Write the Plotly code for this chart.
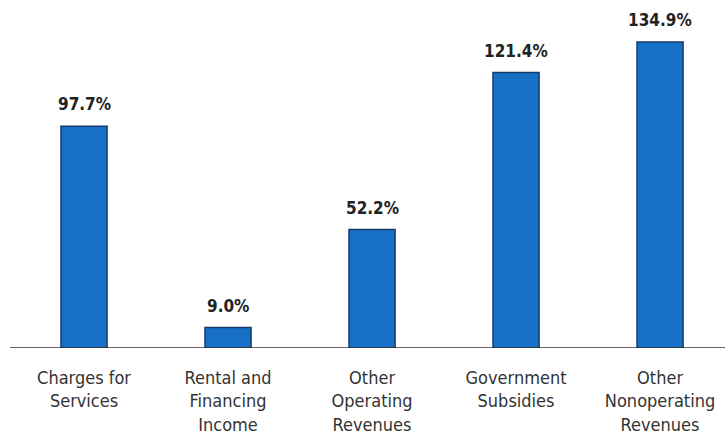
import plotly.graph_objects as go

categories = ["Charges for<br>Services", "Rental and<br>Financing<br>Income", "Other<br>Operating<br>Revenues",
              "Government<br>Subsidies", "Other<br>Nonoperating<br>Revenues"]
values = [97.7, 9.0, 52.2, 121.4, 134.9]
value_labels = ["97.7%", "9.0%", "52.2%", "121.4%", "134.9%"]

xs = list(range(len(categories)))

fig = go.Figure()
fig.add_trace(go.Bar(
    x=xs, y=values, width=0.32,
    marker=dict(color="#1670C6", line=dict(color="#163B6B", width=1.5)),
    hoverinfo="skip",
))

for x, v, t in zip(xs, values, value_labels):
    fig.add_annotation(x=x, y=v, text=t, showarrow=False, yanchor="bottom", yshift=10,
                       font=dict(family="DejaVu Sans Condensed, Arial", size=17,
                                 color="#222222", weight="bold"))

fig.update_layout(
    width=725, height=441,
    margin=dict(l=10, r=0, t=0, b=93),
    paper_bgcolor="white", plot_bgcolor="white",
    showlegend=False,
    xaxis=dict(range=[-0.514, 4.451], tickmode="array", tickvals=xs, ticktext=categories,
               showgrid=False, zeroline=False, showline=False, ticks="",
               ticklabelstandoff=17,
               tickfont=dict(family="DejaVu Sans Condensed, Arial", size=18, color="#333333")),
    yaxis=dict(range=[0, 153.4], visible=False, showgrid=False, zeroline=False),
    shapes=[dict(type="line", xref="paper", yref="y", x0=0, x1=1, y0=0, y1=0,
                 line=dict(color="#333333", width=1.5))],
)

fig.write_html("out.html")
